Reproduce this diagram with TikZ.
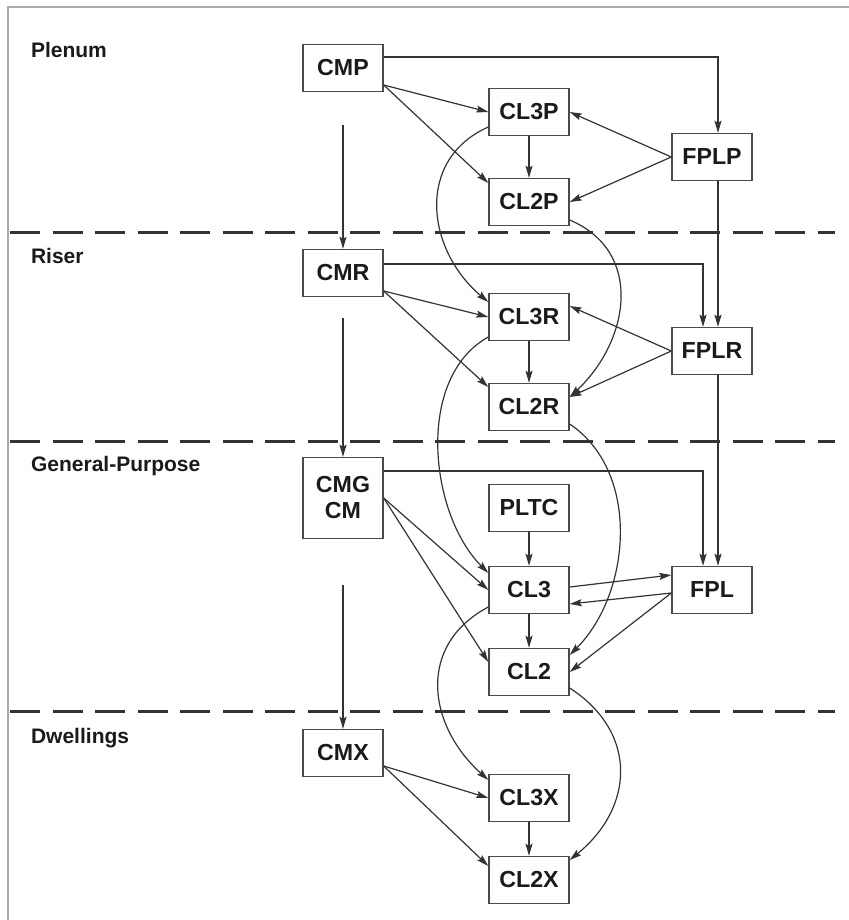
\documentclass[tikz,border=0pt]{standalone}
\usepackage{fontspec}
\setmainfont{Liberation Sans}
\usetikzlibrary{arrows.meta}

\definecolor{txt}{HTML}{1A1A1A}
\definecolor{boxgray}{HTML}{4A4A4A}
\definecolor{linegray}{HTML}{333333}
\definecolor{framegray}{HTML}{AAAAAA}

\tikzset{
  box/.style={draw=boxgray, line width=0.7pt, minimum width=40pt, minimum height=23.5pt,
    inner sep=0pt, align=center, text=txt, font=\fontsize{11.6}{13}\selectfont\bfseries},
  flow/.style={draw=linegray, line width=0.6pt, -{Stealth[length=6pt,width=3.5pt,inset=1pt]}},
  band/.style={draw=linegray, line width=1.5pt, dash pattern=on 15pt off 6.25pt},
  zone/.style={anchor=base west, text=txt, font=\fontsize{10.5}{12}\selectfont\bfseries}
}

\begin{document}
\begin{tikzpicture}[x=0.5pt,y=-0.5pt]
\useasboundingbox (0,0) rectangle (849,920);
\draw[framegray, line width=1pt] (8,920) -- (8,7.5) -- (849,7.5);

% levels
\node[zone] (plenum) at (24,58) {Plenum};
\node[zone] (riser) at (24,263) {Riser};
\node[zone] (general) at (24,471) {General-Purpose};
\node[zone] (dwell) at (24,743) {Dwellings};
\draw[band] (10,232) -- (835,232);
\draw[band] (10,441) -- (835,441);
\draw[band] (10,711) -- (835,711);

% cables
\node[box] (cmp) at (343,68) {CMP};
\node[box] (cl3p) at (529,112) {CL3P};
\node[box] (cl2p) at (529,202) {CL2P};
\node[box] (fplp) at (712,157) {FPLP};
\node[box] (cmr) at (343,273) {CMR};
\node[box] (cl3r) at (529,317) {CL3R};
\node[box] (cl2r) at (529,407) {CL2R};
\node[box] (fplr) at (712,351) {FPLR};
\node[box, minimum height=40.5pt] (cmg) at (343,498) {CMG\\CM};
\node[box] (pltc) at (529,508) {PLTC};
\node[box] (cl3) at (529,590) {CL3};
\node[box] (fpl) at (712,590) {FPL};
\node[box] (cl2) at (529,672) {CL2};
\node[box] (cmx) at (343,753) {CMX};
\node[box] (cl3x) at (529,798) {CL3X};
\node[box] (cl2x) at (529,880) {CL2X};

\coordinate (down1) at (343,125);
\coordinate (down2) at (343,318);
\coordinate (down3) at (343,585);

% plenum
\draw[flow] ([yshift=5.5pt]cmp.east) -| ([xshift=3pt]fplp.north);
\draw[flow] ([yshift=-8.5pt]cmp.east) -- (cl3p.west);
\draw[flow] ([yshift=-8.5pt]cmp.east) -- ([yshift=9.5pt]cl2p.west);
\draw[flow] (cl3p) -- (cl2p);
\draw[flow] (fplp.west) -- (cl3p.east);
\draw[flow] (fplp.west) -- (cl2p.east);
\draw[flow] (down1) -- (cmr.north);
\draw[flow] ([yshift=-7.5pt]cl3p.west) to[out=204,in=140,looseness=1.18] ([yshift=7.5pt]cl3r.west);
\draw[flow] ([yshift=-9pt]cl2p.east) to[out=-23,in=43,looseness=1.18] ([yshift=5pt]cl2r.east);

% riser
\draw[flow] ([yshift=4.5pt]cmr.east) -| ([xshift=-4.5pt]fplr.north);
\draw[flow] ([xshift=3pt]fplp.south) -- ([xshift=3pt]fplr.north);
\draw[flow] ([yshift=-9pt]cmr.east) -- (cl3r.west);
\draw[flow] ([yshift=-9pt]cmr.east) -- ([yshift=10pt]cl2r.west);
\draw[flow] (cl3r) -- (cl2r);
\draw[flow] (fplr.west) -- ([yshift=5.5pt]cl3r.east);
\draw[flow] (fplr.west) -- ([yshift=5pt]cl2r.east);
\draw[flow] (down2) -- (cmg.north);
\draw[flow] ([yshift=-10pt]cl3r.west) to[out=209,in=135,looseness=0.91] ([yshift=8.5pt]cl3.west);
\draw[flow] ([yshift=-8.5pt]cl2r.east) to[out=-34,in=45,looseness=0.96] ([yshift=8.5pt]cl2.east);

% general-purpose
\draw[flow] ([yshift=13.5pt]cmg.east) -| ([xshift=-4.5pt]fpl.north);
\draw[flow] ([xshift=3pt]fplr.south) -- ([xshift=3pt]fpl.north);
\draw[flow] (cmg.east) -- (cl3.west);
\draw[flow] (cmg.east) -- ([yshift=5pt]cl2.west);
\draw[flow] (pltc) -- (cl3);
\draw[flow] (cl3) -- (cl2);
\draw[flow] ([yshift=1.5pt]cl3.east) -- ([yshift=7.5pt]fpl.west);
\draw[flow] ([yshift=-1.5pt]fpl.west) -- ([yshift=-7pt]cl3.east);
\draw[flow] ([yshift=-1.5pt]fpl.west) -- (cl2.east);
\draw[flow] (down3) -- (cmx.north);
\draw[flow] ([yshift=-8.5pt]cl3.west) to[out=208,in=138,looseness=1.21] ([yshift=9pt]cl3x.west);
\draw[flow] ([yshift=-8pt]cl2.east) to[out=-33,in=39,looseness=1.23] ([yshift=10pt]cl2x.east);

% dwellings
\draw[flow] ([yshift=-6.5pt]cmx.east) -- (cl3x.west);
\draw[flow] ([yshift=-6.5pt]cmx.east) -- ([yshift=7pt]cl2x.west);
\draw[flow] (cl3x) -- (cl2x);
\end{tikzpicture}
\end{document}
